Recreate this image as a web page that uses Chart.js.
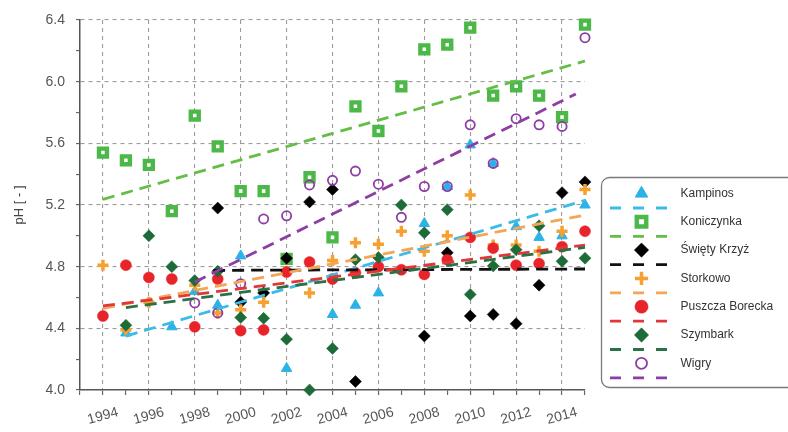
<!DOCTYPE html>
<html>
<head>
<meta charset="utf-8">
<script src="https://cdn.jsdelivr.net/npm/chart.js@4/dist/chart.umd.min.js"></script>
<style>
  html, body { margin: 0; padding: 0; background: #fff; }
  #wrap { width: 788px; height: 432px; position: relative; }
</style>
</head>
<body>
<div id="wrap"><canvas id="c" width="788" height="432"></canvas></div>
<script>
// Annual mean precipitation pH at monitoring stations, 1994-2015
const years = [1994, 1995, 1996, 1997, 1998, 1999, 2000, 2001, 2002, 2003, 2004,
               2005, 2006, 2007, 2008, 2009, 2010, 2011, 2012, 2013, 2014, 2015];

const kampinos     = [null, 4.37, null, 4.41, 4.64, 4.55, 4.87, null, 4.14, null, 4.49,
                      4.55, 4.63, null, 5.08, 5.32, 5.59, 5.47, 5.06, 4.99, 5.00, 5.20];
const koniczynka   = [5.54, 5.49, 5.46, 5.16, 5.78, 5.58, 5.29, 5.29, 4.85, 5.38, 4.99,
                      5.84, 5.68, 5.97, 6.21, 6.24, 6.35, 5.91, 5.97, 5.91, 5.77, 6.37];
const swietyKrzyz  = [null, null, null, null, null, 5.18, 4.57, 4.63, 4.855, 5.22, 5.30,
                      4.055, null, null, 4.35, 4.89, 4.48, 4.49, 4.43, 4.68, 5.28, 5.35];
const storkowo     = [4.81, 4.39, 4.57, null, 4.68, 4.50, 4.52, 4.57, 4.77, 4.63, 4.84,
                      4.955, 4.945, 5.03, 4.90, 5.00, 5.265, 4.94, 4.94, 4.90, 5.03, 5.30];
const puszcza      = [4.48, 4.81, 4.73, 4.72, 4.41, 4.72, 4.385, 4.39, 4.765, 4.83, 4.72,
                      4.76, 4.80, 4.78, 4.75, 4.845, 4.99, 4.92, 4.81, 4.82, 4.93, 5.03];
const szymbark     = [null, 4.42, 5.00, 4.80, 4.71, 4.77, 4.47, 4.465, 4.33, 4.00, 4.27,
                      4.845, 4.86, 5.20, 5.02, 5.17, 4.62, 4.805, 4.91, 5.065, 4.835, 4.855];
const wigry        = [null, null, null, null, 4.565, 4.50, 4.69, 5.11, 5.13, 5.33, 5.36,
                      5.42, 5.335, 5.12, 5.32, 5.32, 5.72, 5.47, 5.76, 5.72, 5.71, 6.285];

// Linear trend lines: [start year, pH] and [end year, pH]
const kampinosTrend    = [[1995, 4.35], [2015, 5.23]];
const koniczynkaTrend  = [[1994, 5.237], [2015, 6.134]];
const swietyKrzyzTrend = [[1998.8, 4.776], [2015, 4.785]];
const storkowoTrend    = [[1994, 4.53], [2015, 5.135]];
const puszczaTrend     = [[1994, 4.545], [2015, 4.94]];
const szymbarkTrend    = [[1995, 4.535], [2015, 4.925]];
const wigryTrend       = [[1998, 4.70], [2014.6, 5.92]];

const seriesNames = ['Kampinos', 'Koniczynka', 'Święty Krzyż', 'Storkowo',
                     'Puszcza Borecka', 'Szymbark', 'Wigry'];

const yTickLabels = ['4.0', '4.4', '4.8', '5.2', '5.6', '6.0', '6.4'];
const xTickLabels = ['1994', '1996', '1998', '2000', '2002', '2004', '2006',
                     '2008', '2010', '2012', '2014'];

// Marker and line styling per series
const styles = [
  { color: '#2bb3e6', line: '#3cbbe8', pointStyle: 'triangle', radius: 6,   bw: 1,   bg: '#2bb3e6' },
  { color: '#4cb847', line: '#63bd47', pointStyle: 'rect',     radius: 5.6, bw: 4.4, bg: '#ffffff' },
  { color: '#000000', line: '#111111', pointStyle: 'rectRot',  radius: 6,   bw: 0.5, bg: '#000000' },
  { color: '#f6a031', line: '#f3a655', pointStyle: 'cross',    radius: 5.5, bw: 3.5, bg: '#f6a031' },
  { color: '#e8232a', line: '#e0383a', pointStyle: 'circle',   radius: 5.5, bw: 0.5, bg: '#e8232a' },
  { color: '#1d6b38', line: '#2a7245', pointStyle: 'rectRot',  radius: 6,   bw: 0.5, bg: '#1d6b38' },
  { color: '#8e3ea3', line: '#8e3ea3', pointStyle: 'circle',   radius: 4.6, bw: 1.8, bg: 'rgba(0,0,0,0)' }
];

const valueSets = [kampinos, koniczynka, swietyKrzyz, storkowo, puszcza, szymbark, wigry];
const trendSets = [kampinosTrend, koniczynkaTrend, swietyKrzyzTrend, storkowoTrend,
                   puszczaTrend, szymbarkTrend, wigryTrend];

function toPoints(vals) {
  const pts = [];
  vals.forEach((v, i) => { if (v !== null) pts.push({ x: years[i], y: v }); });
  return pts;
}

const datasets = [];
valueSets.forEach((vals, i) => {
  const s = styles[i];
  datasets.push({
    type: 'scatter',
    label: seriesNames[i],
    data: toPoints(vals),
    pointStyle: s.pointStyle,
    pointRadius: s.radius,
    pointHoverRadius: s.radius,
    pointBorderWidth: s.bw,
    pointBackgroundColor: s.bg,
    pointBorderColor: s.color,
    showLine: false,
    clip: false,
    order: 20 - i
  });
});
trendSets.forEach((tr, i) => {
  datasets.push({
    type: 'line',
    label: seriesNames[i] + ' trend',
    data: tr.map(p => ({ x: p[0], y: p[1] })),
    borderColor: styles[i].line,
    borderWidth: 2.8,
    borderDash: [12, 7],
    pointRadius: 0,
    fill: false,
    clip: false,
    order: 8 - i
  });
});

// Boxed legend: marker with a dashed trend sample beneath, and the series name
const boxLegend = {
  id: 'boxLegend',
  afterDraw(chart) {
    const ctx = chart.ctx;
    ctx.save();
    // frame
    const x0 = 601.5, y0 = 177.5, x1 = 806, y1 = 387.5, r = 8;
    ctx.beginPath();
    ctx.moveTo(x0 + r, y0);
    ctx.lineTo(x1 - r, y0);
    ctx.arcTo(x1, y0, x1, y0 + r, r);
    ctx.lineTo(x1, y1 - r);
    ctx.arcTo(x1, y1, x1 - r, y1, r);
    ctx.lineTo(x0 + r, y1);
    ctx.arcTo(x0, y1, x0, y1 - r, r);
    ctx.lineTo(x0, y0 + r);
    ctx.arcTo(x0, y0, x0 + r, y0, r);
    ctx.closePath();
    ctx.lineWidth = 1.3;
    ctx.strokeStyle = '#7a7a7a';
    ctx.stroke();

    seriesNames.forEach((name, i) => {
      const s = styles[i];
      const my = 193.5 + i * 28.3;
      const mx = 641.5;
      ctx.save();
      ctx.fillStyle = s.bg;
      ctx.strokeStyle = s.color;
      ctx.lineWidth = s.bw;
      Chart.helpers.drawPoint(ctx, {
        pointStyle: s.pointStyle,
        radius: s.radius * 1.2,
        rotation: 0,
        borderWidth: s.bw
      }, mx, my);
      ctx.restore();

      ctx.save();
      ctx.strokeStyle = s.line;
      ctx.lineWidth = 2.8;
      ctx.setLineDash([11, 12]);
      ctx.beginPath();
      ctx.moveTo(610, my + 14.5);
      ctx.lineTo(669, my + 14.5);
      ctx.stroke();
      ctx.restore();

      ctx.fillStyle = '#333';
      ctx.font = '12px "Liberation Sans", Arial, sans-serif';
      ctx.textBaseline = 'middle';
      ctx.textAlign = 'left';
      ctx.fillText(name, 680.5, my);
    });
    ctx.restore();
  }
};

const isMajorY = v => Math.round(v * 10) % 4 === 0;
const isMajorX = v => Math.round(v) % 2 === 0;

new Chart(document.getElementById('c'), {
  data: { datasets },
  options: {
    responsive: false,
    animation: false,
    events: [],
    layout: { padding: { top: 20, right: 203, left: 0, bottom: 0 } },
    plugins: { legend: { display: false }, tooltip: { enabled: false } },
    scales: {
      x: {
        type: 'linear',
        min: 1993,
        max: 2015,
        afterFit(scale) { scale.height = 42; },
        ticks: {
          stepSize: 1,
          autoSkip: false,
          minRotation: 15,
          maxRotation: 15,
          labelOffset: 15,
          padding: 9,
          color: '#555',
          font: { family: '"Liberation Sans", Arial, sans-serif', size: 14 },
          callback: v => {
            const lbl = String(Math.round(v));
            return xTickLabels.includes(lbl) ? lbl : '';
          }
        },
        grid: {
          color: c => (c.tick && isMajorX(c.tick.value) && c.tick.value > 1993) ? '#9c9c9c' : 'rgba(0,0,0,0)',
          lineWidth: 1.1,
          tickColor: '#666',
          tickLength: 5,
          tickWidth: 1.2
        },
        border: { display: true, color: '#555', width: 1.5, dash: [4, 4] }
      },
      y: {
        type: 'linear',
        min: 4.0,
        max: 6.4,
        afterFit(scale) { scale.width = 80; },
        ticks: {
          stepSize: 0.2,
          autoSkip: false,
          padding: 11,
          color: '#555',
          font: { family: '"Liberation Sans", Arial, sans-serif', size: 14 },
          callback: v => {
            const lbl = (Math.round(v * 10) / 10).toFixed(1);
            return (isMajorY(v) && yTickLabels.includes(lbl)) ? lbl : '';
          }
        },
        grid: {
          color: c => (c.tick && isMajorY(c.tick.value) && c.tick.value > 4.05) ? '#9c9c9c' : 'rgba(0,0,0,0)',
          lineWidth: 1.1,
          tickColor: '#666',
          tickLength: 4,
          tickWidth: 1.2
        },
        border: { display: true, color: '#555', width: 1.5, dash: [4, 4] },
        title: {
          display: true,
          text: 'pH [ - ]',
          color: '#444',
          font: { family: '"Liberation Sans", Arial, sans-serif', size: 13 },
          padding: { top: 12, bottom: 0 }
        }
      }
    }
  },
  plugins: [boxLegend]
});
</script>
</body>
</html>
